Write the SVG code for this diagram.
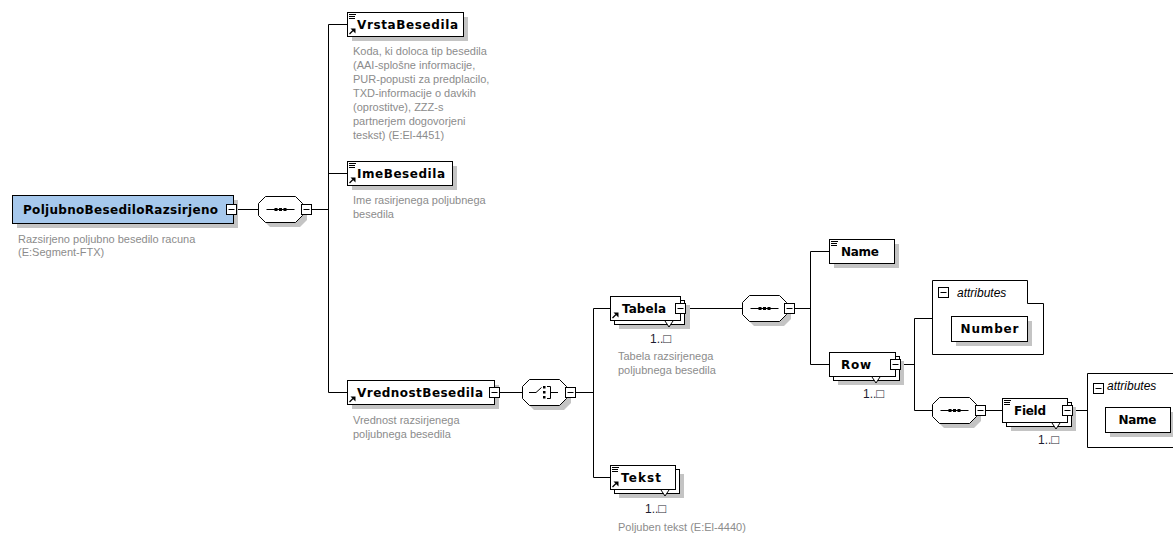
<svg xmlns="http://www.w3.org/2000/svg" xmlns:xlink="http://www.w3.org/1999/xlink" width="1173" height="534" viewBox="0 0 1173 534">
<style>
.box{fill:#fff;stroke:#000;stroke-width:1}
.root{fill:#a6c8ec;stroke:#000;stroke-width:1}
.sh{fill:#c4c4c4}
.ln{stroke:#000;stroke-width:1;fill:none}
.lbl{font-family:"DejaVu Sans","Liberation Sans",sans-serif;font-weight:bold;font-size:12px;fill:#000}
.desc{font-family:"Liberation Sans",Arial,sans-serif;font-size:11px;fill:#8c8c8c}
.occ{font-family:"Liberation Sans",Arial,sans-serif;font-size:12px;fill:#1c1c30}
.occ tspan{font-size:13px}
.attr{font-family:"Liberation Sans",Arial,sans-serif;font-style:italic;font-size:12px;fill:#000}
</style>
<defs>
<g id="eq"><path d="M2,2.5h7M2,4.5h6M2,6.5h6" stroke="#000" stroke-width="1"/></g>
<g id="ref"><path d="M2.5,-2 L6,-5.5" stroke="#000" stroke-width="1.3"/><path d="M3.5,-7.5 H8.5 V-2.5 Z" fill="#000"/></g>
<g id="minus"><rect x="0.5" y="0.5" width="10" height="10" fill="#fff" stroke="#000"/><path d="M2.5,5.5h6" stroke="#000"/></g>
<g id="seqicon"><path d="M-14,0.5H14" stroke="#000"/><rect x="-6" y="-1" width="3" height="3" fill="#000"/><rect x="-1.5" y="-1" width="3" height="3" fill="#000"/><rect x="3" y="-1" width="3" height="3" fill="#000"/></g>
<g id="oct"><polygon points="7,0 37,0 44,7 44,19 37,26 7,26 0,19 0,7"/></g>
</defs>

<g id="connectors" class="ln">
<path d="M237,209.5H258"/>
<path d="M312,209.5H328.5"/>
<path d="M328.5,24.5V392.5"/>
<path d="M328.5,24.5H347M328.5,173.5H347M328.5,392.5H347"/>
<path d="M499,392.5H522"/>
<path d="M575,392.5H593.5"/>
<path d="M593.5,308.5V477.5"/>
<path d="M593.5,308.5H610M593.5,477.5H610"/>
<path d="M685,308.5H742"/>
<path d="M794,308.5H810.5"/>
<path d="M810.5,251.5V364.5"/>
<path d="M810.5,251.5H829M810.5,364.5H829"/>
<path d="M900,364.5H914.5"/>
<path d="M914.5,318.5V410.5"/>
<path d="M914.5,318.5H932M914.5,410.5H932"/>
<path d="M985,410.5H1002"/>
<path d="M1072,410.5H1087"/>
</g>

<g id="PoljubnoBesediloRazsirjeno">
<rect class="sh" x="17" y="200" width="221" height="28"/>
<rect class="root" x="12.5" y="195.5" width="221" height="28"/>
<text class="lbl" x="23" y="214" textLength="195" font-size="13">PoljubnoBesediloRazsirjeno</text>
<use xlink:href="#minus" x="226" y="204"/>
<text class="desc" x="18" y="243">Razsirjeno poljubno besedilo racuna</text>
<text class="desc" x="18" y="256">(E:Segment-FTX)</text>
</g>

<g id="seq1">
<use xlink:href="#oct" x="263" y="201" class="sh"/>
<use xlink:href="#oct" x="258.5" y="196.5" class="box"/>
<use xlink:href="#seqicon" x="280.5" y="209"/>
<use xlink:href="#minus" x="301" y="204"/>
</g>

<g id="VrstaBesedila">
<rect class="sh" x="352" y="17" width="116" height="24"/>
<rect class="box" x="347.5" y="12.5" width="116" height="24"/>
<use xlink:href="#eq" x="347" y="12"/>
<use xlink:href="#ref" x="347" y="36"/>
<text class="lbl" x="357" y="29" textLength="101">VrstaBesedila</text>
<text class="desc" x="353" y="55">Koda, ki doloca tip besedila</text>
<text class="desc" x="353" y="69">(AAI-splošne informacije,</text>
<text class="desc" x="353" y="83">PUR-popusti za predplacilo,</text>
<text class="desc" x="353" y="97">TXD-informacije o davkih</text>
<text class="desc" x="353" y="111">(oprostitve), ZZZ-s</text>
<text class="desc" x="353" y="125">partnerjem dogovorjeni</text>
<text class="desc" x="353" y="139">teskst) (E:El-4451)</text>
</g>

<g id="ImeBesedila">
<rect class="sh" x="352" y="166" width="105" height="24"/>
<rect class="box" x="347.5" y="161.5" width="105" height="24"/>
<use xlink:href="#eq" x="347" y="161"/>
<use xlink:href="#ref" x="347" y="185"/>
<text class="lbl" x="357" y="178" textLength="88">ImeBesedila</text>
<text class="desc" x="353" y="204">Ime rasirjenega poljubnega</text>
<text class="desc" x="353" y="218">besedila</text>
</g>

<g id="VrednostBesedila">
<rect class="sh" x="352" y="385" width="147" height="24"/>
<rect class="box" x="347.5" y="380.5" width="147" height="24"/>
<use xlink:href="#ref" x="347" y="404"/>
<text class="lbl" x="357" y="397" textLength="126">VrednostBesedila</text>
<use xlink:href="#minus" x="489" y="387"/>
<text class="desc" x="353" y="424">Vrednost razsirjenega</text>
<text class="desc" x="353" y="438">poljubnega besedila</text>
</g>

<g id="choice">
<use xlink:href="#oct" x="527" y="384" class="sh"/>
<use xlink:href="#oct" x="522.5" y="379.5" class="box"/>
<path class="ln" d="M529,392.5H536L541.5,387.5"/>
<rect x="543" y="386" width="2.5" height="2.5" fill="#000"/>
<rect x="543" y="391" width="2.5" height="2.5" fill="#000"/>
<rect x="543" y="396" width="2.5" height="2.5" fill="#000"/>
<path class="ln" d="M547,386.5H550.5V398.5H547M550.5,392.5H558"/>
<use xlink:href="#minus" x="565" y="387"/>
</g>

<g id="Tabela">
<rect class="sh" x="619" y="305" width="71" height="24"/>
<rect class="box" x="614.5" y="300.5" width="70" height="24"/>
<rect class="box" x="610.5" y="296.5" width="70" height="24"/>
<path d="M665,321 L669,327 L673,321" fill="#fff" stroke="#000"/>
<use xlink:href="#ref" x="610" y="320"/>
<text class="lbl" x="622" y="313" textLength="44">Tabela</text>
<use xlink:href="#minus" x="675" y="303"/>
<text class="occ" x="650" y="343">1..<tspan>□</tspan></text>
<text class="desc" x="618" y="360">Tabela razsirjenega</text>
<text class="desc" x="618" y="374">poljubnega besedila</text>
</g>

<g id="Tekst">
<rect class="sh" x="619" y="474" width="65" height="24"/>
<rect class="box" x="614.5" y="469.5" width="65" height="24"/>
<rect class="box" x="610.5" y="465.5" width="65" height="24"/>
<path d="M661,490 L665,496 L669,490" fill="#fff" stroke="#000"/>
<use xlink:href="#eq" x="610" y="465"/>
<use xlink:href="#ref" x="610" y="489"/>
<text class="lbl" x="621" y="482" textLength="40">Tekst</text>
<text class="occ" x="645" y="513">1..<tspan>□</tspan></text>
<text class="desc" x="618" y="531">Poljuben tekst (E:El-4440)</text>
</g>

<g id="seq2">
<use xlink:href="#oct" x="747" y="300" class="sh"/>
<use xlink:href="#oct" x="742.5" y="295.5" class="box"/>
<use xlink:href="#seqicon" x="764.5" y="308"/>
<use xlink:href="#minus" x="784" y="303"/>
</g>

<g id="Name">
<rect class="sh" x="834" y="244" width="65" height="24"/>
<rect class="box" x="829.5" y="239.5" width="65" height="24"/>
<use xlink:href="#eq" x="829" y="239"/>
<text class="lbl" x="841" y="256" textLength="38">Name</text>
</g>

<g id="Row">
<rect class="sh" x="838" y="361" width="66" height="24"/>
<rect class="box" x="833.5" y="356.5" width="66" height="24"/>
<rect class="box" x="829.5" y="352.5" width="66" height="24"/>
<path d="M872,377 L876,383 L880,377" fill="#fff" stroke="#000"/>
<text class="lbl" x="841" y="369" textLength="30">Row</text>
<use xlink:href="#minus" x="890" y="359"/>
<text class="occ" x="863" y="398">1..<tspan>□</tspan></text>
</g>

<g id="attributesRow">
<path class="box" d="M932.5,280.5H1027.5V303.5H1043.5V354.5H932.5Z"/>
<use xlink:href="#minus" x="938" y="287"/>
<text class="attr" x="957" y="297">attributes</text>
<g id="Number">
<rect class="sh" x="956" y="321" width="76" height="25"/>
<rect class="box" x="951.5" y="316.5" width="76" height="25"/>
<text class="lbl" x="989.5" y="333" text-anchor="middle" textLength="58">Number</text>
</g>
</g>

<g id="seq3">
<use xlink:href="#oct" x="937" y="402" class="sh"/>
<use xlink:href="#oct" x="932.5" y="397.5" class="box"/>
<use xlink:href="#seqicon" x="954.5" y="410"/>
<use xlink:href="#minus" x="975" y="405"/>
</g>

<g id="Field">
<rect class="sh" x="1011" y="407" width="65" height="24"/>
<rect class="box" x="1006.5" y="402.5" width="65" height="24"/>
<rect class="box" x="1002.5" y="398.5" width="65" height="24"/>
<path d="M1052,423 L1056,429 L1060,423" fill="#fff" stroke="#000"/>
<use xlink:href="#eq" x="1002" y="398"/>
<text class="lbl" x="1014" y="415" textLength="32">Field</text>
<use xlink:href="#minus" x="1062" y="405"/>
<text class="occ" x="1038" y="444">1..<tspan>□</tspan></text>
</g>

<g id="attributesField">
<path class="box" d="M1087.5,373.5H1190V447.5H1087.5Z"/>
<use xlink:href="#minus" x="1093" y="383"/>
<text class="attr" x="1107" y="390">attributes</text>
<g id="NameAttr">
<rect class="sh" x="1110" y="412" width="65" height="25"/>
<rect class="box" x="1105.5" y="407.5" width="65" height="25"/>
<text class="lbl" x="1137.5" y="424" text-anchor="middle" textLength="38">Name</text>
</g>
</g>
</svg>
